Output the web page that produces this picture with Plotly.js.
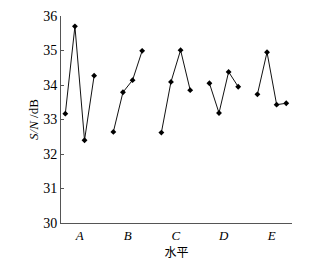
<!DOCTYPE html>
<html>
<head>
<meta charset="utf-8">
<script src="https://cdn.plot.ly/plotly-3.0.1.min.js"></script>
<style>html,body{margin:0;padding:0;background:#fff;}#chart{width:334px;height:262px;}</style>
</head>
<body>
<div id="chart"></div>
<script>
const factors = ['A', 'B', 'C', 'D', 'E'];
const levelOffsets = [-0.3, -0.1, 0.1, 0.3];
const snA = [33.17, 35.70, 32.40, 34.27];
const snB = [32.64, 33.79, 34.14, 34.99];
const snC = [32.62, 34.09, 35.01, 33.85];
const snD = [34.05, 33.19, 34.38, 33.95];
const snE = [33.73, 34.95, 33.43, 33.47];
const yTicks = [30, 31, 32, 33, 34, 35, 36];

const series = [snA, snB, snC, snD, snE];
const traces = series.map((vals, i) => ({
  x: levelOffsets.map(o => i + o),
  y: vals,
  type: 'scatter',
  mode: 'lines+markers',
  line: {color: '#111', width: 1},
  marker: {symbol: 'diamond', size: 4.5, color: '#000'},
  showlegend: false,
  hoverinfo: 'skip'
}));

const layout = {
  width: 334, height: 262,
  margin: {l: 61, r: 42, t: 16, b: 39},
  paper_bgcolor: '#fff', plot_bgcolor: '#fff',
  font: {family: '"Liberation Serif", "DejaVu Serif", serif', color: '#000', size: 13},
  xaxis: {
    range: [-0.39, 4.42],
    tickvals: factors.map((f, i) => i),
    ticktext: factors.map(f => '<i>' + f + '</i>'),
    ticks: '', showgrid: false, zeroline: false,
    showline: true, linecolor: '#555', linewidth: 1,
    tickfont: {size: 13, family: '"Liberation Serif", serif'},
    title: {text: '水平', font: {family: '"Noto Sans CJK SC", sans-serif', size: 12}, standoff: 2}
  },
  yaxis: {
    range: [30, 36],
    tickvals: yTicks,
    ticktext: yTicks.map(String),
    ticks: 'inside', ticklen: 3, tickcolor: '#555',
    showgrid: false, zeroline: false,
    showline: true, linecolor: '#555', linewidth: 1,
    tickfont: {size: 14, family: '"Liberation Serif", serif'},
    title: {text: '<i>S/N</i> /dB', font: {size: 13, family: '"Liberation Serif", serif'}, standoff: 1}
  }
};

Plotly.newPlot('chart', traces, layout, {staticPlot: true, displayModeBar: false});
</script>
</body>
</html>
